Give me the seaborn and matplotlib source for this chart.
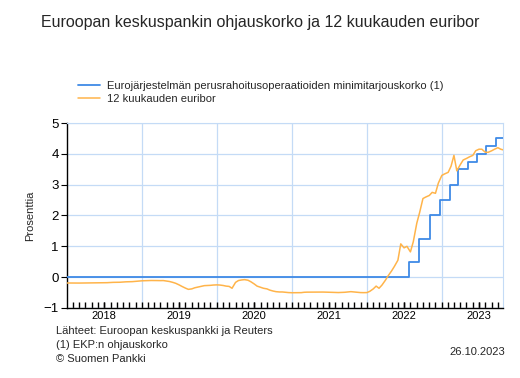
import numpy as np
import pandas as pd
import matplotlib
matplotlib.use("Agg")
import matplotlib.pyplot as plt
from matplotlib.ticker import FixedLocator, FixedFormatter, MultipleLocator, NullFormatter
import seaborn as sns

# ---------------- data ----------------
title = "Euroopan keskuspankin ohjauskorko ja 12 kuukauden euribor"
label_ecb = "Eurojärjestelmän perusrahoitusoperaatioiden minimitarjouskorko (1)"
label_eur = "12 kuukauden euribor"
y_label = "Prosenttia"
footer_lines = ["Lähteet: Euroopan keskuspankki ja Reuters", "(1) EKP:n ohjauskorko", "© Suomen Pankki"]
date_text = "26.10.2023"
year_labels = ["2018", "2019", "2020", "2021", "2022", "2023"]

# ECB main refinancing rate (step changes)
ecb_dates = ["2018-01-01", "2022-07-27", "2022-09-14", "2022-11-02", "2022-12-21",
             "2023-02-08", "2023-03-22", "2023-05-10", "2023-06-21", "2023-08-02",
             "2023-09-20", "2023-10-26"]
ecb_rate = [0.00, 0.50, 1.25, 2.00, 2.50, 3.00, 3.50, 3.75, 4.00, 4.25, 4.50, 4.50]

# 12-month euribor, values on the 1st and 15th of each month
eur_2018 = [-0.189, -0.190, -0.191, -0.191, -0.191, -0.190, -0.190, -0.190,
            -0.189, -0.187, -0.183, -0.180, -0.180, -0.179, -0.172, -0.168,
            -0.166, -0.165, -0.157, -0.151, -0.148, -0.145, -0.135, -0.125]
eur_2019 = [-0.118, -0.114, -0.110, -0.108, -0.108, -0.110, -0.112, -0.110,
            -0.125, -0.140, -0.170, -0.200, -0.250, -0.300, -0.355, -0.395,
            -0.380, -0.345, -0.320, -0.300, -0.275, -0.270, -0.265, -0.255]
eur_2020 = [-0.250, -0.255, -0.270, -0.290, -0.300, -0.360, -0.170, -0.110,
            -0.090, -0.080, -0.100, -0.150, -0.220, -0.290, -0.330, -0.360,
            -0.380, -0.420, -0.450, -0.470, -0.480, -0.480, -0.490, -0.500]
eur_2021 = [-0.505, -0.503, -0.500, -0.502, -0.490, -0.486, -0.485, -0.483,
            -0.482, -0.480, -0.483, -0.485, -0.490, -0.492, -0.497, -0.499,
            -0.495, -0.490, -0.480, -0.470, -0.480, -0.490, -0.500, -0.502]
eur_2022 = [-0.500, -0.460, -0.380, -0.290, -0.360, -0.260, -0.100, 0.050,
            0.200, 0.350, 0.550, 1.080, 0.950, 1.000, 0.820, 1.150,
            1.750, 2.100, 2.550, 2.600, 2.650, 2.750, 2.720, 3.050]
eur_2023 = [3.300, 3.350, 3.400, 3.600, 3.950, 3.450, 3.650, 3.800,
            3.850, 3.900, 3.950, 4.100, 4.150, 4.150, 4.050, 4.050,
            4.100, 4.150, 4.200, 4.150, 4.130]

# ---------------- assemble ----------------
eur_vals = eur_2018 + eur_2019 + eur_2020 + eur_2021 + eur_2022 + eur_2023
eur_dates = list(pd.date_range("2018-01-01", "2023-10-15", freq="SMS")) + [pd.Timestamp("2023-10-26")]
df_eur = pd.DataFrame({"date": eur_dates, "value": eur_vals})
df_ecb = pd.DataFrame({"date": pd.to_datetime(ecb_dates), "value": ecb_rate})

sns.set_style("white")
plt.rcParams["font.family"] = ["Liberation Sans", "DejaVu Sans"]

blue = "#3f8ae6"
orange = "#ffb44a"
grid_c = "#c4dbf6"

fig = plt.figure(figsize=(5.2, 3.78), dpi=100)
ax = fig.add_axes([67 / 520, 1 - 308 / 378, (503 - 67) / 520, (308 - 123) / 378])

sns.lineplot(data=df_ecb, x="date", y="value", ax=ax, color=blue, lw=1.3,
             drawstyle="steps-post", label=label_ecb, zorder=3)
sns.lineplot(data=df_eur, x="date", y="value", ax=ax, color=orange, lw=1.1,
             label=label_eur, zorder=4)

x0, x1 = pd.Timestamp("2018-01-01"), pd.Timestamp("2023-10-26")
ax.set_xlim(x0, x1)
ax.set_ylim(-1, 5)
ax.yaxis.set_major_locator(MultipleLocator(1))

conv = ax.xaxis.convert_units
year_starts = [conv(d) for d in pd.date_range("2019-01-01", "2023-01-01", freq="YS")]
month_starts = [conv(d) for d in pd.date_range("2018-02-01", "2023-10-01", freq="MS")]
mid_years = [conv(pd.Timestamp(f"{y}-07-01")) for y in year_labels]

# vertical grid at year starts
for xv in year_starts:
    ax.axvline(xv, color=grid_c, lw=0.9, zorder=0)
ax.yaxis.grid(True, color=grid_c, lw=0.9)
ax.xaxis.grid(False)
ax.set_axisbelow(True)

# month ticks (minor, inward), year labels at mid-year
ax.xaxis.set_minor_locator(FixedLocator(month_starts))
ax.xaxis.set_minor_formatter(NullFormatter())
ax.xaxis.set_major_locator(FixedLocator(mid_years))
ax.xaxis.set_major_formatter(FixedFormatter(year_labels))
ax.xaxis.remove_overlapping_locs = False

for s in ["top", "right"]:
    ax.spines[s].set_color(grid_c)
for s in ["left", "bottom"]:
    ax.spines[s].set_color("black")
    ax.spines[s].set_linewidth(1.0)

ax.tick_params(axis="y", which="major", direction="out", length=4, width=0.8,
               labelsize=9.5, pad=2, left=True, colors="black")
ax.tick_params(axis="x", which="minor", direction="in", length=4, width=1.0,
               bottom=True, color="black")
ax.tick_params(axis="x", which="major", direction="in", length=4, width=1.0,
               labelsize=8, pad=2, bottom=True, color="black", labelcolor="black")

ax.set_xlabel("")
ax.set_ylabel(y_label, fontsize=8, labelpad=6)

ax.get_legend().remove()
h, l = ax.get_legend_handles_labels()
fig.legend(h, l, loc="upper left", bbox_to_anchor=(78 / 520, 1 - 81 / 378),
           frameon=False, fontsize=8, handlelength=2.0, handletextpad=0.6,
           labelspacing=0.25, borderpad=0, borderaxespad=0)

fig.text(0.5, 1 - 22 / 378, title, ha="center", va="center", fontsize=11.5)
for i, t in enumerate(footer_lines):
    fig.text(56 / 520, 1 - (331 + 14 * i) / 378, t, ha="left", va="center", fontsize=8)
fig.text(505 / 520, 1 - 352 / 378, date_text, ha="right", va="center", fontsize=8)

fig.savefig("out.png", dpi=100)
